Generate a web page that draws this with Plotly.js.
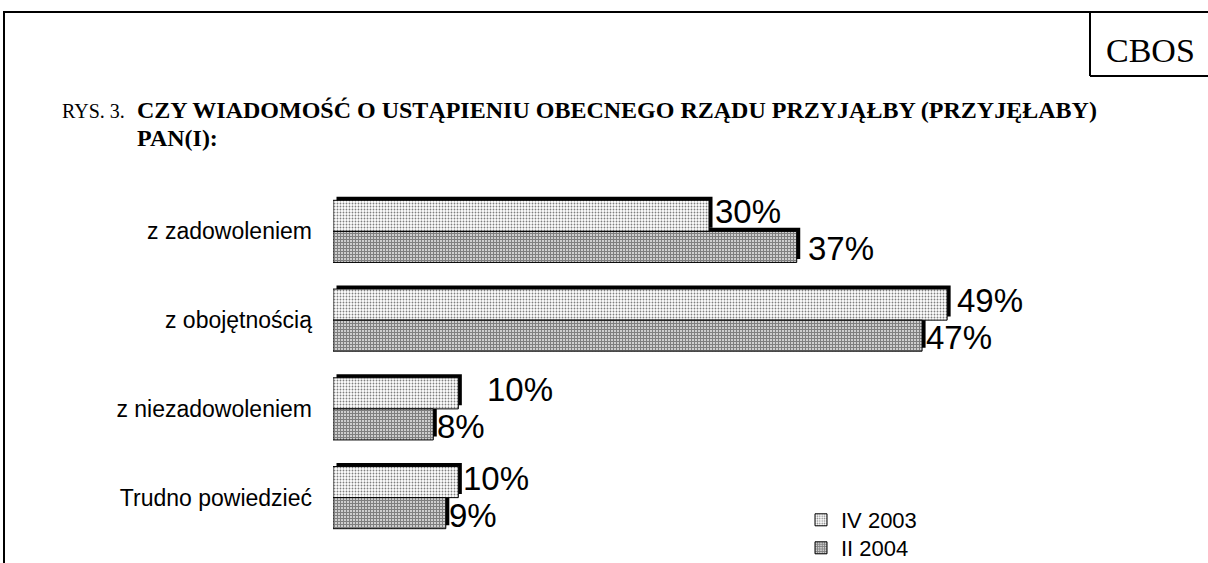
<!DOCTYPE html>
<html>
<head>
<meta charset="utf-8">
<script src="https://cdn.plot.ly/plotly-3.0.1.min.js"></script>
<style>html,body{margin:0;padding:0;background:#fff;}#chart{width:1208px;height:563px;}</style>
</head>
<body>
<div id="chart"></div>
<script>
const categories = ["z zadowoleniem", "z obojętnością", "z niezadowoleniem", "Trudno powiedzieć"];
const series2003 = [30, 49, 10, 10];
const series2004 = [37, 47, 8, 9];
const labels2003 = series2003.map(v => v + "%");
const labels2004 = series2004.map(v => v + "%");
const seriesNames = ["IV 2003", "II 2004"];

// label pixel nudges (style only)
const shift2003 = [4, 8, 27, 3];
const shift2004 = [9, 2, 2, 1];

const W = 1208, H = 563;
const M = {l: 333, r: 123, t: 187, b: 21, autoexpand: false};
const PW = W - M.l - M.r, PH = H - M.t - M.b;
const px = x => (x - M.l) / PW;
const py = y => (H - M.b - y) / PH;

const SANS = "Arial, 'Liberation Sans', sans-serif";
const SERIF = "'Times New Roman', 'Liberation Serif', serif";
const barW = 0.35;
const shX = 0.28, shY = 0.04;

function shadow(vals, off) {
  return {
    type: "bar", orientation: "h", y: categories,
    x: vals, base: shX,
    offset: off - shY, width: barW,
    marker: {color: "#000", line: {width: 0}},
    showlegend: false, hoverinfo: "skip"
  };
}

const traces = [
  shadow(series2003, -barW),
  shadow(series2004, 0),
  {
    type: "bar", orientation: "h", name: seriesNames[0], y: categories, x: series2003,
    offset: -barW, width: barW, cliponaxis: false, legend: "legend",
    marker: {color: "#fff", line: {color: "#000", width: 1},
      pattern: {shape: ".", fgcolor: "#000", bgcolor: "#fff", size: 3, solidity: 0.3, fillmode: "overlay"}}
  },
  {
    type: "bar", orientation: "h", name: seriesNames[1], y: categories, x: series2004,
    offset: 0, width: barW, cliponaxis: false, legend: "legend2",
    marker: {color: "#fff", line: {color: "#000", width: 1},
      pattern: {shape: "+", fgcolor: "#000", bgcolor: "#fff", size: 3, solidity: 0.7, fillmode: "overlay"}}
  }
];

const line = {color: "#000", width: 2};
const valueAnn = [];
const barPx = barW * PH / categories.length;
categories.forEach((c, i) => {
  valueAnn.push({x: series2003[i], y: c, xref: "x", yref: "y", text: labels2003[i], showarrow: false,
    xanchor: "left", yanchor: "middle", xshift: shift2003[i], yshift: barPx / 2 + 4,
    font: {family: SANS, size: 33, color: "#000"}});
  valueAnn.push({x: series2004[i], y: c, xref: "x", yref: "y", text: labels2004[i], showarrow: false,
    xanchor: "left", yanchor: "middle", xshift: shift2004[i], yshift: -barPx / 2 - 2,
    font: {family: SANS, size: 33, color: "#000"}});
});

const legendBase = {xanchor: "left", yanchor: "middle",
  font: {family: SANS, size: 22, color: "#000"}, bgcolor: "rgba(0,0,0,0)",
  tracegroupgap: 0, itemwidth: 30};

const layout = {
  width: W, height: H,
  margin: M,
  paper_bgcolor: "#fff", plot_bgcolor: "rgba(0,0,0,0)",
  barmode: "overlay",
  showlegend: true,
  legend: Object.assign({x: px(801), y: py(520)}, legendBase),
  legend2: Object.assign({x: px(801), y: py(548)}, legendBase),
  xaxis: {range: [0, 60], visible: false, fixedrange: true},
  yaxis: {autorange: "reversed", type: "category", showline: false, showgrid: false, zeroline: false,
    ticks: "", ticklabelstandoff: 20,
    tickfont: {family: SANS, size: 23, color: "#000"}},
  shapes: [
    {type: "line", xref: "paper", yref: "paper", x0: px(3), x1: px(1208), y0: py(12), y1: py(12), line},
    {type: "line", xref: "paper", yref: "paper", x0: px(4), x1: px(4), y0: py(12), y1: py(563), line},
    {type: "line", xref: "paper", yref: "paper", x0: px(1090), x1: px(1090), y0: py(12), y1: py(76), line},
    {type: "line", xref: "paper", yref: "paper", x0: px(1090), x1: px(1208), y0: py(76), y1: py(76), line}
  ],
  annotations: valueAnn.concat([
    {xref: "paper", yref: "paper", x: px(1150), y: py(50), text: "CBOS", showarrow: false,
      xanchor: "center", yanchor: "middle", font: {family: SERIF, size: 34, color: "#000"}},
    {xref: "paper", yref: "paper", x: px(60), y: py(111), text: "RYS. 3.", showarrow: false,
      xanchor: "left", yanchor: "middle", font: {family: SERIF, size: 20, color: "#000"}},
    {xref: "paper", yref: "paper", x: px(135), y: py(110),
      text: "<b>CZY WIADOMOŚĆ O USTĄPIENIU OBECNEGO RZĄDU PRZYJĄŁBY (PRZYJĘŁABY)</b>", showarrow: false,
      xanchor: "left", yanchor: "middle", font: {family: SERIF, size: 24, color: "#000"}},
    {xref: "paper", yref: "paper", x: px(135), y: py(138), text: "<b>PAN(I):</b>", showarrow: false,
      xanchor: "left", yanchor: "middle", font: {family: SERIF, size: 24, color: "#000"}}
  ])
};

Plotly.newPlot("chart", traces, layout, {displayModeBar: false, staticPlot: true});
</script>
</body>
</html>
